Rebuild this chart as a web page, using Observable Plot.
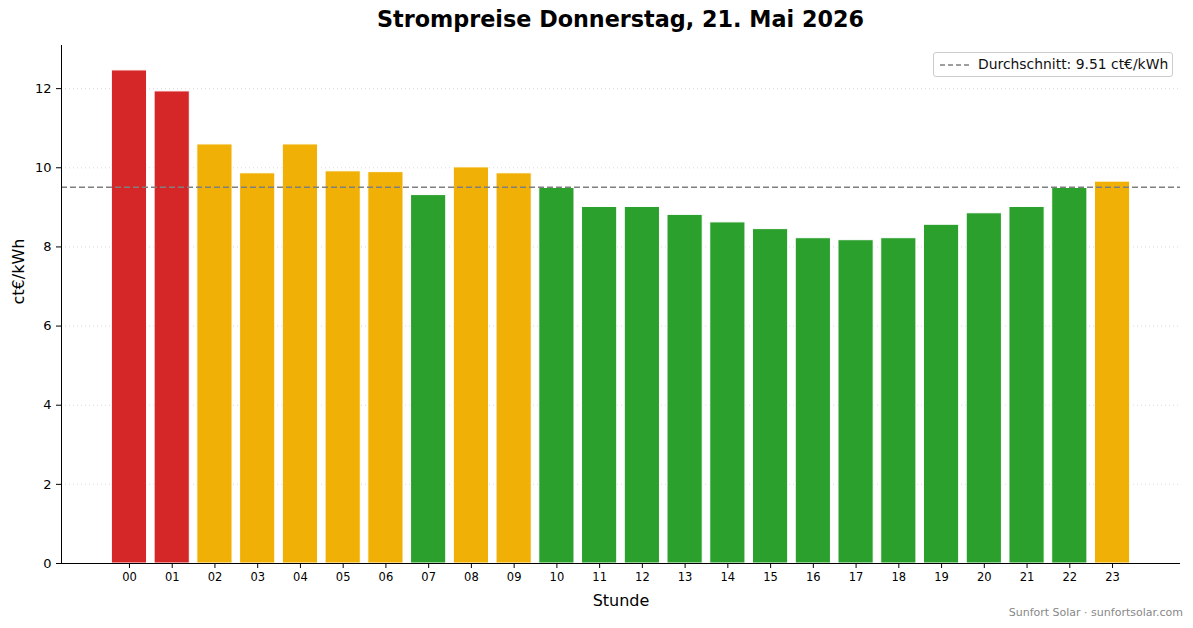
<!DOCTYPE html>
<html>
<head>
<meta charset="utf-8">
<script src="https://cdn.jsdelivr.net/npm/d3@7"></script>
<script src="https://cdn.jsdelivr.net/npm/@observablehq/plot@0.6"></script>
<style>
  html, body { margin: 0; padding: 0; background: white; }
  body { width: 1193px; height: 628px; position: relative; overflow: hidden; font-family: "DejaVu Sans", sans-serif; }
  #title { position: absolute; left: 61px; width: 1119px; top: 6px; text-align: center; font-weight: bold; font-size: 22.3px; color: #000; }
  #chart { position: absolute; left: 0; top: 38px; }
  #legend { position: absolute; left: 933px; top: 52px; width: 238px; height: 23px; border: 1px solid #ccc; border-radius: 3px; background: rgba(255,255,255,0.9); font-size: 13.9px; }
  #legend svg { position: absolute; left: 5px; top: 6px; }
  #legend span { position: absolute; left: 44px; top: 3px; color: #111; white-space: nowrap; }
  #footer { position: absolute; right: 10px; top: 606px; font-size: 11px; color: #888; }
</style>
</head>
<body>
<div id="title">Strompreise Donnerstag, 21. Mai 2026</div>
<div id="chart"></div>
<div id="legend"><svg width="32" height="12"><line x1="1" y1="6" x2="31" y2="6" stroke="#7f7f7f" stroke-width="1.5" stroke-dasharray="5,3"/></svg><span id="legendText"></span></div>
<div id="footer">Sunfort Solar · sunfortsolar.com</div>
<script>
const hours = ["00","01","02","03","04","05","06","07","08","09","10","11","12","13","14","15","16","17","18","19","20","21","22","23"];
const prices = [12.46, 11.93, 10.59, 9.86, 10.59, 9.91, 9.89, 9.31, 10.01, 9.86, 9.49, 9.01, 9.01, 8.81, 8.62, 8.45, 8.22, 8.17, 8.22, 8.56, 8.85, 9.01, 9.49, 9.65];
const levels = ["hoch","hoch","mittel","mittel","mittel","mittel","mittel","niedrig","mittel","mittel","niedrig","niedrig","niedrig","niedrig","niedrig","niedrig","niedrig","niedrig","niedrig","niedrig","niedrig","niedrig","niedrig","mittel"];
const levelNames = ["hoch","mittel","niedrig"];
const levelColors = ["#d62728","#f0b005","#2ca02c"];
const average = 9.51;
const yTicks = [0, 2, 4, 6, 8, 10, 12];

document.getElementById("legendText").textContent = `Durchschnitt: ${average.toFixed(2)} ct€/kWh`;

const data = hours.map((h, i) => ({hour: h, price: prices[i], level: levels[i]}));

const chart = Plot.plot({
  width: 1193,
  height: 590,
  marginLeft: 61,
  marginRight: 13,
  marginTop: 7,
  marginBottom: 65,
  style: {fontFamily: "DejaVu Sans, sans-serif", color: "#000", background: "white", overflow: "visible"},
  x: {type: "band", domain: hours, paddingInner: 0.2, paddingOuter: 1.19, round: false, label: null},
  y: {domain: [0, 13.09], label: null},
  color: {domain: levelNames, range: levelColors},
  marks: [
    Plot.ruleY(yTicks.filter(d => d > 0), {stroke: "#ccc", strokeOpacity: 0.7, strokeDasharray: "1,3"}),
    Plot.barY(data, {x: "hour", y: "price", fill: "level", stroke: "white", strokeWidth: 1, insetLeft: -0.5, insetRight: -0.5}),
    Plot.ruleY([average], {stroke: "#7f7f7f", strokeWidth: 1.5, strokeDasharray: "6,3"}),
    Plot.axisX({tickSize: 5, tickPadding: 4, fontSize: 11.5, label: null}),
    Plot.axisY({ticks: yTicks, tickSize: 5, tickPadding: 5, fontSize: 13, label: null}),
    Plot.ruleY([0], {stroke: "black", strokeWidth: 1}),
    Plot.frame({anchor: "left", stroke: "black", strokeWidth: 1}),
    Plot.text(["Stunde"], {frameAnchor: "bottom", dy: 42, fontSize: 16, fill: "#000"}),
    Plot.text(["ct€/kWh"], {frameAnchor: "left", dx: -43, rotate: -90, fontSize: 16, fill: "#000"})
  ]
});
document.getElementById("chart").appendChild(chart);
</script>
</body>
</html>
